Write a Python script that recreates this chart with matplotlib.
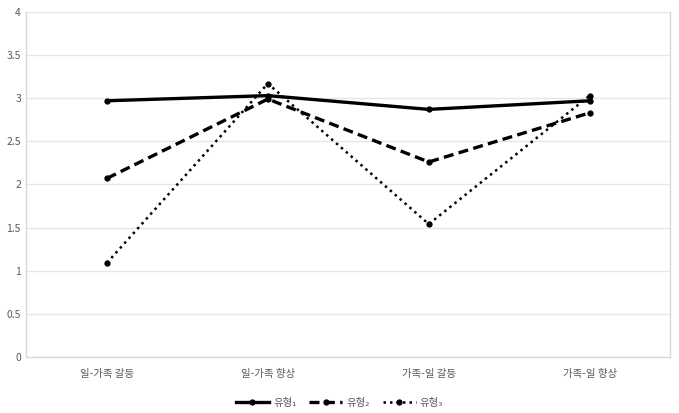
import matplotlib
matplotlib.use("Agg")
import matplotlib.pyplot as plt

plt.rcParams['font.family'] = ['Noto Sans CJK KR', 'DejaVu Sans']

categories = ['일-가족 갈등', '일-가족 향상', '가족-일 갈등', '가족-일 향상']
type1 = [2.97, 3.03, 2.87, 2.97]
type2 = [2.07, 2.99, 2.26, 2.83]
type3 = [1.09, 3.17, 1.54, 3.03]
series_names = ['유형₁', '유형₂', '유형₃']
yticks = [0, 0.5, 1, 1.5, 2, 2.5, 3, 3.5, 4]

fig = plt.figure(figsize=(6.79, 4.13), dpi=100)
ax = fig.add_axes([0.039, 0.136, 0.948, 0.835])

x = list(range(len(categories)))
ax.plot(x, type1, color='black', lw=2.4, ls='-', marker='o', ms=3.5, label=series_names[0])
ax.plot(x, type2, color='black', lw=2.4, ls=(0, (3, 1.6)), marker='o', ms=3.5, label=series_names[1])
ax.plot(x, type3, color='black', lw=1.8, ls=(0, (1, 1.6)), marker='o', ms=3.5, label=series_names[2])

ax.set_xlim(-0.5, 3.5)
ax.set_ylim(0, 4)
ax.set_yticks(yticks)
ax.set_yticklabels([f'{v:g}' for v in yticks])
ax.set_xticks(x)
ax.set_xticklabels(categories)
ax.grid(axis='y', color='#e6e6e6', lw=1)
ax.set_axisbelow(True)
for s in ax.spines.values():
    s.set_color('#d9d9d9')
    s.set_linewidth(1)
ax.spines['top'].set_visible(False)
ax.tick_params(axis='both', length=0, labelsize=7.5, labelcolor='#595959')
ax.tick_params(axis='y', pad=4)
ax.tick_params(axis='x', pad=9)

leg = fig.legend(loc='lower center', bbox_to_anchor=(0.5, -0.01), ncol=3, frameon=False,
                 fontsize=7.5, handlelength=3.2, columnspacing=1.2, handletextpad=0.4)
for t in leg.get_texts():
    t.set_color('#595959')

fig.savefig('out.png', dpi=100)
